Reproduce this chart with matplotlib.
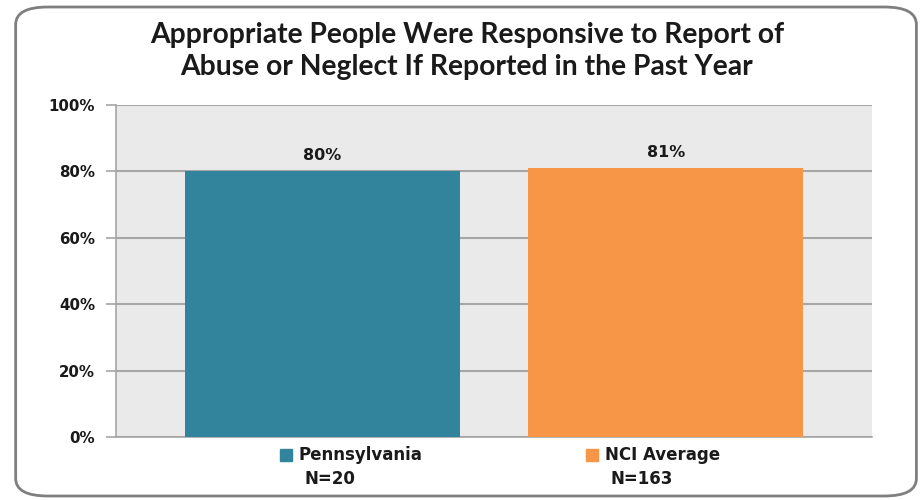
import matplotlib
matplotlib.use("Agg")
from matplotlib import pyplot as plt
from matplotlib.patches import FancyBboxPatch
from matplotlib.ticker import PercentFormatter
import numpy as np

groups = ["Pennsylvania", "NCI Average"]
sizes = ["N=20", "N=163"]
values = [80, 81]
colors = ["#31849B", "#F79646"]
title = "Appropriate People Were Responsive to Report of\nAbuse or Neglect If Reported in the Past Year"

fig = plt.figure(figsize=(9.21, 5.0), dpi=100)

# rounded frame around the whole chart
frame = FancyBboxPatch((0.017, 0.008), 0.978, 0.978,
                       boxstyle="round,pad=0,rounding_size=0.035",
                       transform=fig.transFigure, facecolor="white",
                       edgecolor="#7F7F7F", linewidth=2, zorder=-10)
fig.patches.append(frame)

ax = fig.add_axes([0.126, 0.126, 0.821, 0.664])
ax.set_zorder(5)
ax.set_facecolor("#EAEAEA")

x = np.arange(len(values))
bars = ax.bar(x, values, width=0.8, color=colors, zorder=3)

ax.set_ylim(0, 100)
ax.set_xlim(-0.6, 1.6)
ax.set_yticks(np.arange(0, 101, 20))
ax.yaxis.set_major_formatter(PercentFormatter(decimals=0))
ax.grid(axis="y", color="#A6A6A6", linewidth=1.5, zorder=1)
ax.set_axisbelow(True)
ax.set_xticks([])

for s in ["top", "right"]:
    ax.spines[s].set_visible(False)
for s in ["left", "bottom"]:
    ax.spines[s].set_color("#A6A6A6")
    ax.spines[s].set_linewidth(1.2)
ax.tick_params(axis="y", length=7, color="#A6A6A6", width=1.2, pad=8)
for lbl in ax.get_yticklabels():
    lbl.set_fontweight("bold")
    lbl.set_fontsize(10.8)
    lbl.set_color("#1A1A1A")

# value labels above bars
for xi, v in zip(x, values):
    ax.annotate(f"{v}%", (xi, v), xytext=(0, 6), textcoords="offset points",
                ha="center", va="bottom", fontsize=11.5, fontweight="bold",
                color="#1A1A1A")

# legend-like labels under the bars
tr = ax.get_xaxis_transform()
offsets = [-0.106, -0.214]
for xi, name, n, c, off in zip(x, groups, sizes, colors, offsets):
    ax.plot(xi + off, -0.055, marker="s", markersize=9, color=c,
            transform=tr, clip_on=False)
    ax.text(xi + off + 0.036, -0.055, name, transform=tr, ha="left", va="center",
            fontsize=12, fontweight="bold", color="#1A1A1A")
    ax.text(xi + off + 0.054, -0.125, n, transform=tr, ha="left", va="center",
            fontsize=12, fontweight="bold", color="#1A1A1A")

fig.text(0.507, 0.898, title, ha="center", va="center", fontsize=20.3,
         fontweight="bold", family="Lato", linespacing=1.3, color="#1A1A1A")

fig.savefig("out.png", dpi=100)
